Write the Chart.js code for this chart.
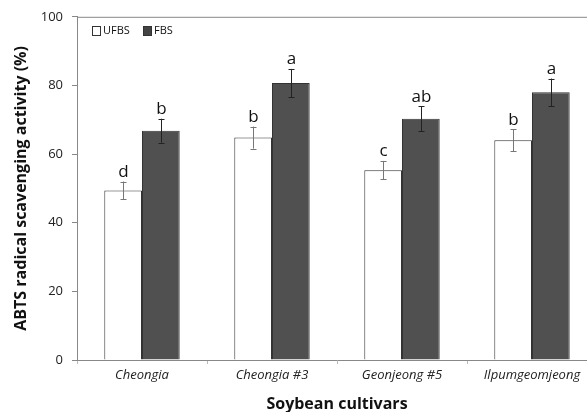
<!DOCTYPE html>
<html lang="en">
<head>
  <meta charset="UTF-8">
  <title>ABTS radical scavenging activity</title>
  <script src="https://cdn.jsdelivr.net/npm/chart.js"></script>
  <style>
    body {
      margin: 0;
      background: #fff;
      overflow: hidden;
    }
    #box {
      width: 600px;
      height: 412px;
    }
  </style>
</head>
<body>
  <div id="box"><canvas id="grafico" width="600" height="412"></canvas></div>

  <script>
    const cultivares = ['Cheongia', 'Cheongia #3', 'Geonjeong #5', 'Ilpumgeomjeong'];
    const ufbs = [49.4, 64.8, 55.3, 64.0];
    const fbs = [66.8, 80.7, 70.3, 78.0];
    const ufbsErro = [2.6, 3.2, 2.7, 3.2];
    const fbsErro = [3.5, 4.1, 3.6, 4.0];
    const ufbsLetras = ['d', 'b', 'c', 'b'];
    const fbsLetras = ['b', 'a', 'ab', 'a'];
    const yTicks = [0, 20, 40, 60, 80, 100];

    const fonte = "'Open Sans', 'Noto Sans', sans-serif";

    // error bars, letters, top border and the legend inside the plot
    const extras = {
      id: 'extras',
      afterDatasetsDraw(chart) {
        const ctx = chart.ctx;
        const y = chart.scales.y;
        const area = chart.chartArea;
        const erros = [ufbsErro, fbsErro];
        const letras = [ufbsLetras, fbsLetras];
        const valores = [ufbs, fbs];

        ctx.save();
        ctx.strokeStyle = '#888';
        ctx.lineWidth = 1;
        ctx.beginPath();
        ctx.moveTo(area.left, area.top + 0.5);
        ctx.lineTo(area.right, area.top + 0.5);
        ctx.stroke();

        for (let d = 0; d < 2; d++) {
          const meta = chart.getDatasetMeta(d);
          meta.data.forEach((bar, i) => {
            const x = Math.round(bar.x) + 0.5;
            const topo = y.getPixelForValue(valores[d][i] + erros[d][i]);
            const base = y.getPixelForValue(valores[d][i] - erros[d][i]);
            ctx.strokeStyle = d === 0 ? '#777' : '#222';
            ctx.beginPath();
            ctx.moveTo(x, topo);
            ctx.lineTo(x, base);
            ctx.moveTo(x - 3, Math.round(topo) + 0.5);
            ctx.lineTo(x + 3, Math.round(topo) + 0.5);
            ctx.moveTo(x - 3, Math.round(base) + 0.5);
            ctx.lineTo(x + 3, Math.round(base) + 0.5);
            ctx.stroke();

            ctx.fillStyle = '#111';
            ctx.font = '17px ' + fonte;
            ctx.textAlign = 'center';
            ctx.textBaseline = 'bottom';
            ctx.fillText(letras[d][i], x, topo - 1);
          });
        }

        // legend
        ctx.font = '11px ' + fonte;
        ctx.textAlign = 'left';
        ctx.textBaseline = 'middle';
        ctx.lineWidth = 1;
        ctx.fillStyle = '#fff';
        ctx.strokeStyle = '#333';
        ctx.fillRect(92.5, 26.5, 8, 9);
        ctx.strokeRect(92.5, 26.5, 8, 9);
        ctx.fillStyle = '#111';
        ctx.fillText('UFBS', 103, 31);
        ctx.fillStyle = '#444';
        ctx.fillRect(143.5, 26.5, 8, 9);
        ctx.strokeRect(143.5, 26.5, 8, 9);
        ctx.fillStyle = '#111';
        ctx.fillText('FBS', 154, 31);
        ctx.restore();
      }
    };

    new Chart(document.getElementById('grafico'), {
      type: 'bar',
      data: {
        labels: cultivares,
        datasets: [
          { label: 'UFBS', data: ufbs, backgroundColor: '#fff', borderColor: '#333', borderWidth: 1 },
          { label: 'FBS', data: fbs, backgroundColor: '#505050', borderColor: '#333', borderWidth: 1 }
        ]
      },
      options: {
        responsive: false,
        animation: false,
        layout: { padding: { top: 14, left: 0, right: 3, bottom: 0 } },
        datasets: { bar: { categoryPercentage: 0.58, barPercentage: 1.0 } },
        plugins: { legend: { display: false }, tooltip: { enabled: false } },
        scales: {
          x: {
            afterFit: s => { s.height = 52; },
            grid: { display: true, drawOnChartArea: false, offset: true, tickLength: 4, color: '#bbb' },
            border: { display: true, color: '#888' },
            ticks: { color: '#222', padding: 3, font: { family: fonte, size: 13, style: 'italic' } },
            title: {
              display: true, text: 'Soybean cultivars', color: '#111',
              font: { family: fonte, size: 16, weight: 'bold' }, padding: { top: 4, bottom: -2 }
            }
          },
          y: {
            min: 0, max: 100,
            afterFit: s => { s.width = 77; },
            afterBuildTicks: s => { s.ticks = yTicks.map(v => ({ value: v })); },
            grid: { display: true, drawOnChartArea: false, tickLength: 5, color: '#888' },
            border: { display: true, color: '#888' },
            ticks: { color: '#222', padding: 9, font: { family: fonte, size: 13 } },
            title: {
              display: true, text: 'ABTS radical scavenging activity (%)', color: '#111',
              font: { family: fonte, size: 16, weight: 'bold' }, padding: { top: 12, bottom: 0 }
            }
          }
        }
      },
      plugins: [extras]
    });
  </script>
</body>
</html>
